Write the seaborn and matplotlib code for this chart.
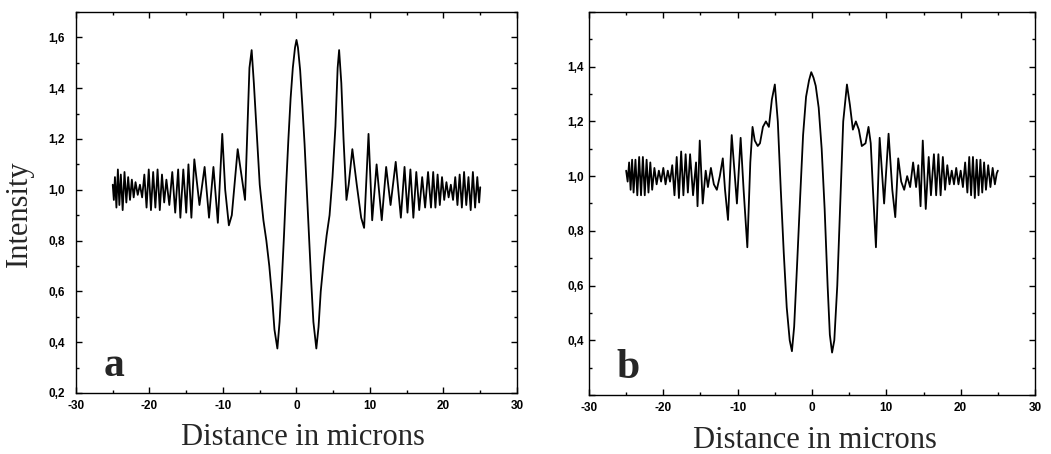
import matplotlib
matplotlib.use("Agg")
import matplotlib.pyplot as plt
import seaborn as sns
import pandas as pd
from matplotlib.ticker import MultipleLocator, FuncFormatter

# Intensity profiles (x in microns)
# panel a, left half
a_x_left = [-25.0, -24.85, -24.7, -24.5, -24.3, -24.1, -23.9, -23.65, -23.4, -23.15,
            -22.9, -22.65, -22.4, -22.15, -21.9, -21.6, -21.3, -21.0, -20.7, -20.4,
            -20.1, -19.8, -19.5, -19.2, -18.9, -18.6, -18.3, -18.0, -17.7, -17.3,
            -16.9, -16.5, -16.1, -15.8, -15.4, -15.0, -14.7, -14.3, -13.9, -13.2,
            -12.5, -11.9, -11.3, -10.7, -10.1, -9.7, -9.2, -8.8, -8.0, -7.5,
            -7.0, -6.7, -6.4, -6.1, -5.8, -5.4, -5.0, -4.5, -4.1, -3.7,
            -3.3, -3.0, -2.6, -2.3, -2.0, -1.7, -1.4, -1.1, -0.8, -0.5,
            -0.2, 0.0]
a_y_left = [1.02, 0.96, 1.05, 0.93, 1.08, 0.94, 1.06, 0.92, 1.07, 0.95,
            1.05, 0.96, 1.04, 0.97, 1.03, 0.98, 1.02, 0.97, 1.06, 0.93,
            1.08, 0.92, 1.07, 0.93, 1.08, 0.92, 1.06, 0.95, 1.04, 0.94,
            1.07, 0.91, 1.08, 0.89, 1.08, 0.91, 1.10, 0.89, 1.12, 0.94,
            1.09, 0.89, 1.09, 0.87, 1.22, 1.00, 0.86, 0.90, 1.16, 1.06,
            0.96, 1.22, 1.48, 1.55, 1.42, 1.22, 1.02, 0.88, 0.80, 0.70,
            0.57, 0.45, 0.375, 0.48, 0.64, 0.82, 1.02, 1.20, 1.36, 1.48,
            1.56, 1.59]
# panel a, right half
a_x_right = [0.2, 0.5, 0.8, 1.1, 1.4, 1.7, 2.0, 2.3, 2.7, 3.0,
             3.3, 3.7, 4.1, 4.5, 4.9, 5.3, 5.6, 5.8, 6.1, 6.4,
             6.8, 7.1, 7.6, 8.2, 8.8, 9.2, 9.8, 10.3, 10.9, 11.6,
             12.2, 12.8, 13.5, 14.2, 14.7, 15.1, 15.5, 15.9, 16.3, 16.7,
             17.1, 17.5, 17.9, 18.3, 18.6, 18.9, 19.2, 19.5, 19.8, 20.1,
             20.4, 20.7, 21.0, 21.3, 21.6, 21.9, 22.2, 22.5, 22.8, 23.1,
             23.4, 23.7, 24.0, 24.3, 24.6, 24.85, 25.0]
a_y_right = [1.56, 1.47, 1.33, 1.18, 1.00, 0.82, 0.64, 0.48, 0.375, 0.46,
             0.60, 0.72, 0.82, 0.90, 1.05, 1.25, 1.48, 1.55, 1.42, 1.20,
             0.96, 1.02, 1.16, 1.02, 0.89, 0.85, 1.22, 0.88, 1.10, 0.88,
             1.09, 0.94, 1.11, 0.89, 1.09, 0.91, 1.08, 0.89, 1.07, 0.92,
             1.05, 0.93, 1.07, 0.93, 1.07, 0.93, 1.06, 0.94, 1.05, 0.96,
             1.03, 0.97, 1.02, 0.96, 1.05, 0.94, 1.06, 0.93, 1.07, 0.94,
             1.05, 0.92, 1.07, 0.93, 1.05, 0.95, 1.01]

# panel b, left half
b_x_left = [-25.0, -24.8, -24.6, -24.4, -24.2, -24.0, -23.75, -23.5, -23.25, -23.0,
            -22.75, -22.5, -22.25, -22.0, -21.75, -21.5, -21.2, -20.9, -20.6, -20.3,
            -20.0, -19.7, -19.4, -19.1, -18.8, -18.5, -18.2, -17.9, -17.6, -17.3,
            -17.0, -16.7, -16.4, -16.0, -15.6, -15.4, -15.1, -14.7, -14.3, -14.0,
            -13.6, -13.2, -12.8, -12.4, -12.0, -11.7, -11.3, -10.8, -10.1, -9.6,
            -9.2, -8.7, -8.3, -8.0, -7.7, -7.3, -7.0, -6.6, -6.2, -5.8,
            -5.4, -5.0, -4.6, -4.2, -3.8, -3.4, -3.0, -2.7, -2.4, -2.0,
            -1.6, -1.2, -0.8, -0.4, -0.1]
b_y_left = [1.02, 0.98, 1.05, 0.95, 1.06, 0.94, 1.06, 0.93, 1.07, 0.93,
            1.07, 0.93, 1.06, 0.94, 1.05, 0.95, 1.03, 0.97, 1.02, 0.98,
            1.03, 0.97, 1.02, 0.98, 1.04, 0.93, 1.07, 0.92, 1.09, 0.93,
            1.08, 0.94, 1.08, 0.93, 1.05, 0.89, 1.13, 0.90, 1.02, 0.96,
            1.03, 0.97, 0.95, 1.00, 1.065, 0.95, 0.84, 1.15, 0.90, 1.14,
            0.95, 0.74, 1.05, 1.18, 1.13, 1.11, 1.12, 1.18, 1.20, 1.18,
            1.28, 1.335, 1.20, 0.95, 0.72, 0.52, 0.40, 0.36, 0.45, 0.68,
            0.92, 1.15, 1.29, 1.35, 1.38]
# panel b, right half
b_x_right = [0.2, 0.5, 0.9, 1.3, 1.7, 2.1, 2.4, 2.7, 3.0, 3.4,
             3.8, 4.2, 4.7, 5.1, 5.5, 5.9, 6.3, 6.7, 7.2, 7.6,
             7.9, 8.2, 8.6, 9.1, 9.7, 10.3, 10.8, 11.2, 11.6, 12.0,
             12.4, 12.8, 13.2, 13.6, 14.0, 14.3, 14.6, 14.9, 15.3, 15.7,
             16.0, 16.4, 16.7, 17.0, 17.3, 17.6, 17.9, 18.2, 18.5, 18.8,
             19.1, 19.4, 19.7, 20.0, 20.3, 20.6, 20.9, 21.15, 21.4, 21.65,
             21.9, 22.15, 22.4, 22.65, 22.9, 23.15, 23.4, 23.7, 24.0, 24.3,
             24.6, 24.85, 25.0]
b_y_right = [1.36, 1.33, 1.25, 1.10, 0.88, 0.60, 0.42, 0.355, 0.40, 0.60,
             0.90, 1.20, 1.335, 1.26, 1.17, 1.20, 1.17, 1.11, 1.12, 1.18,
             1.12, 0.95, 0.74, 1.14, 0.90, 1.155, 0.95, 0.85, 1.065, 0.98,
             0.95, 1.00, 0.96, 1.05, 0.96, 1.04, 0.89, 1.13, 0.88, 1.07,
             0.93, 1.08, 0.93, 1.08, 0.93, 1.07, 0.95, 1.04, 0.97, 1.02,
             0.97, 1.03, 0.97, 1.02, 0.96, 1.05, 0.94, 1.07, 0.93, 1.07,
             0.92, 1.06, 0.93, 1.06, 0.94, 1.05, 0.95, 1.04, 0.96, 1.03,
             0.97, 1.01, 1.02]

df_a = pd.DataFrame({"x": a_x_left + a_x_right, "y": a_y_left + a_y_right})
df_b = pd.DataFrame({"x": b_x_left + b_x_right, "y": b_y_left + b_y_right})

sns.set_style("ticks")
plt.rcParams['font.family'] = ['Liberation Sans', 'DejaVu Sans']

fig = plt.figure(figsize=(10.51, 4.54), dpi=100)
ax_a = fig.add_axes([0.0723, 0.1344, 0.4196, 0.8392])
ax_b = fig.add_axes([0.5604, 0.1300, 0.4244, 0.8436])


def comma_fmt(hide=()):
    def f(v, pos):
        if any(abs(v - h) < 1e-6 for h in hide):
            return ""
        return f"{v:.1f}".replace(".", ",")
    return FuncFormatter(f)


int_fmt = FuncFormatter(lambda v, pos: f"{int(round(v))}")

serif = ['Liberation Serif', 'DejaVu Serif']

panels = [(ax_a, df_a, (0.2, 1.7), (), "a", 8, 0.515),
          (ax_b, df_b, (0.2, 1.6), (0.2, 1.6), "b", 3.5, 0.507)]

for ax, df, ylim, hide, letter, ypad, xlab_x in panels:
    sns.lineplot(data=df, x="x", y="y", ax=ax, color="black", linewidth=1.3,
                 estimator=None, sort=False)
    ax.set_xlim(-30, 30)
    ax.set_ylim(*ylim)
    ax.xaxis.set_major_locator(MultipleLocator(10))
    ax.xaxis.set_minor_locator(MultipleLocator(5))
    ax.yaxis.set_major_locator(MultipleLocator(0.2))
    ax.yaxis.set_minor_locator(MultipleLocator(0.1))
    ax.xaxis.set_major_formatter(int_fmt)
    ax.yaxis.set_major_formatter(comma_fmt(hide))
    ax.tick_params(which="both", direction="in", top=True, right=True,
                   colors="black", width=1.0)
    ax.tick_params(which="major", length=4)
    ax.tick_params(which="minor", length=2.5)
    ax.tick_params(axis="x", which="major", pad=5, labelsize=8.5)
    ax.tick_params(axis="y", which="major", pad=ypad, labelsize=8.5)
    for lab in ax.get_xticklabels() + ax.get_yticklabels():
        lab.set_fontweight("bold")
    for sp in ax.spines.values():
        sp.set_visible(True)
        sp.set_color("black")
        sp.set_linewidth(1.0)
    ax.set_xlabel("Distance in microns", family=serif, fontsize=22)
    ax.xaxis.set_label_coords(xlab_x, -0.08)
    ax.set_ylabel("")
    ax.text(0.062, 0.045, letter, transform=ax.transAxes, family=serif,
            fontsize=30, fontweight="bold", ha="left", va="baseline")

ax_a.set_ylabel("Intensity", family=serif, fontsize=22)
ax_a.yaxis.set_label_coords(-0.095, 0.47)

fig.savefig("out.png", dpi=100, facecolor="white")
